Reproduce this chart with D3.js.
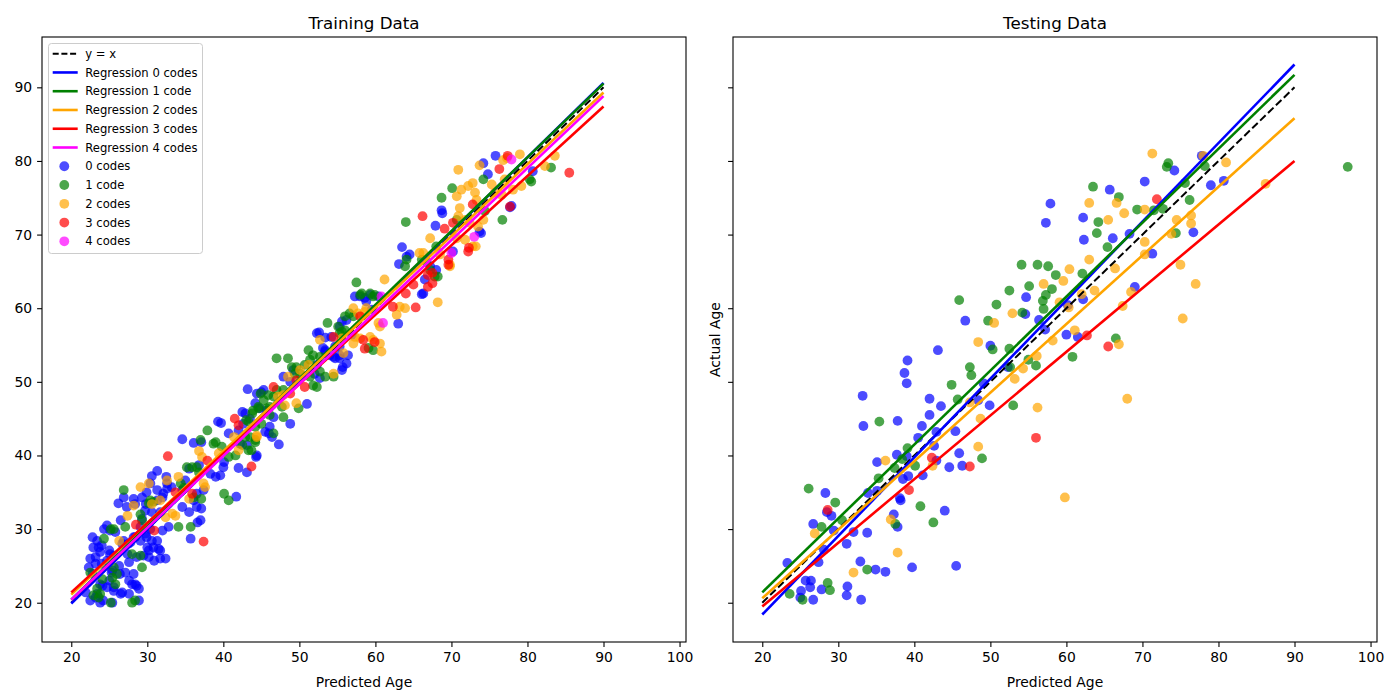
<!DOCTYPE html>
<html>
<head>
<meta charset="utf-8">
<script src="https://cdn.jsdelivr.net/npm/d3@7"></script>
<style>
body { margin: 0; background: #fff; }
text { font-family: "DejaVu Sans", sans-serif; fill: #000; }
</style>
</head>
<body>
<svg id="chart" width="1400" height="700"></svg>
<script>
var groups = ['0 codes', '1 code', '2 codes', '3 codes', '4 codes']
var colors = ['blue', 'green', 'orange', 'red', 'magenta']
var xTicks = [20, 30, 40, 50, 60, 70, 80, 90, 100]
var yTicks = [20, 30, 40, 50, 60, 70, 80, 90]

// regression lines: y at x = 20 and x = 90
var fitX = [20, 90]
var trainFits = [[19.9, 90.6], [20.4, 90.5], [21.1, 89.3], [21.4, 87.4], [20.4, 88.8]]
var testFits = [[18.4, 93.1], [21.4, 91.7], [20.6, 85.8], [19.5, 80.0]]

// training points [predicted, actual]
var train0 = [[43.2,49.0],[44.2,47.1],[39.3,44.6],[39.7,44.4],[34.6,42.2],[36.1,41.7],[37.1,41.8],[42.5,45.9],[40.7,43.0],[42.0,43.4],[44.4,40.0],[42.0,38.3],[43.1,37.7],[40.1,39.1],[39.0,37.1],[36.8,38.7],[35.5,38.2],[35.0,36.6],[31.3,37.9],[30.6,37.2],[32.5,37.1],[34.6,35.3],[32.6,35.5],[32.0,34.3],[31.3,33.9],[26.2,33.5],[26.9,34.3],[28.2,34.1],[29.3,34.3],[29.8,33.4],[30.6,32.3],[34.6,33.0],[35.5,32.3],[36.5,33.0],[37.1,32.8],[36.6,30.9],[35.7,28.7],[41.7,34.4],[32.0,29.8],[32.8,30.3],[30.4,30.0],[29.8,29.4],[31.3,28.4],[31.5,27.3],[32.4,26.0],[30.0,27.5],[30.2,26.2],[30.9,25.7],[28.4,28.9],[27.8,28.2],[26.7,28.0],[24.7,30.5],[24.3,30.0],[22.8,28.9],[23.6,27.5],[23.2,26.2],[22.5,26.0],[22.3,24.8],[22.8,23.9],[25.0,27.1],[25.6,26.4],[26.3,25.0],[25.4,24.4],[27.4,26.6],[27.6,25.5],[27.1,24.1],[28.2,23.9],[28.4,22.5],[28.9,21.9],[27.6,23.0],[25.0,23.0],[25.6,22.1],[24.1,22.3],[26.5,21.2],[27.6,21.2],[23.4,21.2],[22.5,20.3],[23.8,20.0],[21.9,21.4],[29.3,31.4],[29.1,30.3],[26.5,31.2],[28.9,20.3],
  [30.4,36.2],[29.9,35.0],[31.3,35.3],[32.6,36.2],[33.2,35.7],[32.1,34.8],[27.3,33.0],[28.4,33.4],[29.7,32.5],[31.7,32.3],[25.1,29.8],[25.8,29.6],[23.4,28.4],[24.0,27.8],[22.9,27.5],[23.8,26.9],[23.2,25.3],[24.0,25.3],[24.7,25.7],[25.1,26.6],[26.9,28.4],[27.5,28.0],[28.2,28.9],[29.1,28.4],[29.9,28.9],[30.6,28.4],[30.8,27.5],[31.7,27.1],[30.2,27.1],[29.5,26.4],[28.6,26.2],[31.7,26.0],[25.3,24.1],[26.4,23.9],[28.0,22.5],[28.6,22.3],[23.8,22.5],[24.7,22.1],[25.6,21.6],[26.7,21.4],[23.2,20.7],[24.2,20.3],[25.4,20.0],[37.0,31.2],[36.1,33.9],[36.5,34.8],[37.4,35.3],[38.3,37.5],[39.6,37.3],[40.0,38.4],
  [63.1,66.0],[64.1,67.0],[64.5,67.3],[66.1,61.9],[63.0,57.9],[58.0,61.6],[58.6,61.4],[56.2,58.4],[55.6,58.2],[52.6,56.7],[53.4,56.0],[56.9,56.4],[54.5,53.4],[55.3,53.2],[56.2,52.5],[55.7,52.0],[55.3,53.6],[53.4,54.1],[53.1,54.6],[52.3,52.3],[52.0,51.1],[52.7,50.5],[49.2,51.6],[47.9,50.7],[48.8,50.0],[45.3,48.9],[44.4,48.4],[44.8,46.4],[45.7,46.1],[46.6,45.2],[51.0,47.0],[48.8,44.3],[47.3,41.5],[44.3,39.8],[46.1,43.9],[45.5,43.2],[67.2,65.7],[68.0,65.2],[52.3,56.6],[54.7,54.8],[55.3,54.8],
  [45.0,48.6],[42.9,45.7],[43.5,45.0],[42.6,44.3],[46.0,43.0],[46.4,42.5],[42.2,41.6],[43.1,41.4],[53.4,54.3],[54.0,53.6],[54.7,53.2],[55.6,51.6],[56.4,53.6],[57.3,61.6],[58.8,60.9],[59.3,61.8],[60.4,61.6],[55.3,57.5],[59.5,59.8],[54.2,56.1],
  [75.8,80.7],[74.2,79.7],[80.7,78.6],[77.9,73.9],[77.7,73.7],[74.8,78.2],[68.7,73.3],[68.8,72.9],[67.9,71.2],[73.7,70.4],[73.9,70.2],[66.3,62.0],[66.5,63.9],[70.2,67.7],[63.5,68.3]]
var train1 = [[37.9,43.4],[37.0,42.1],[39.0,41.8],[39.8,41.2],[40.7,39.8],[42.5,41.4],[43.3,40.7],[44.2,42.1],[41.6,40.0],[44.9,48.4],[44.6,46.4],[43.8,45.7],[43.0,44.8],[40.1,34.8],[40.7,33.9],[34.4,36.2],[34.8,35.6],[35.9,38.4],[36.8,37.7],[36.1,34.3],[37.1,34.1],[34.1,30.3],[35.7,30.3],[26.9,35.3],[27.1,30.3],[25.2,30.0],[24.3,28.7],[29.1,32.0],[30.2,33.5],[28.0,26.6],[29.3,24.8],[26.0,23.9],[25.4,23.4],[24.1,23.2],[23.4,21.9],[23.8,21.2],[25.2,20.0],[28.4,20.3],[28.0,20.0],[22.5,24.1],
  [25.6,30.0],[29.1,26.4],[25.6,24.8],[25.8,22.5],[22.9,21.0],[23.6,20.7],[30.4,33.9],[30.8,33.7],[35.2,38.4],[36.5,38.4],[38.7,41.6],[29.3,31.2],
  [57.5,63.5],[53.7,58.0],[51.2,54.3],[51.8,53.6],[51.4,53.0],[47.0,53.2],[48.5,53.2],[49.6,52.0],[50.1,51.1],[50.7,52.3],[51.4,50.7],[51.8,49.5],[52.7,51.4],[53.4,50.7],[54.5,50.7],[52.7,53.4],[58.2,62.0],[59.3,62.0],[59.7,61.6],[56.6,59.3],[57.1,58.9],[56.0,57.0],[55.3,56.6],[59.7,54.3],[59.1,54.6],[64.1,66.6],[63.9,65.7],[67.2,65.2],[68.2,64.3],[47.0,48.9],[45.9,48.2],[45.3,47.5],[46.1,46.6],[47.7,46.6],[44.6,46.6],[43.9,46.1],[47.9,45.2],[45.0,44.3],[44.2,43.9],[43.5,42.5],[44.2,41.8],[43.7,40.7],[49.9,46.4],
  [47.9,48.9],[46.6,48.0],[45.7,46.4],[46.1,45.5],[43.3,44.6],[42.9,42.5],[46.6,43.0],[52.3,49.3],[56.0,58.9],[58.0,61.8],[59.9,61.8],[55.1,57.5],[55.6,56.8],[49.0,52.0],[49.4,51.1],
  [83.1,79.1],[80.3,77.5],[80.5,77.2],[76.7,72.0],[68.7,75.0],[70.1,76.3],[74.2,77.5],[67.8,64.3],[66.7,66.3],[66.1,66.6],[73.7,73.6],[74.4,73.2],[70.7,72.0],[68.0,68.4],[64.0,71.7]]
var train2 = [[36.8,40.6],[37.2,39.8],[39.4,40.3],[41.4,42.5],[42.0,40.7],[44.4,42.5],[34.1,37.1],[32.6,36.6],[29.1,35.7],[30.2,36.2],[30.6,33.4],[31.7,33.9],[28.2,33.2],[35.5,34.1],[37.4,36.2],[37.6,35.7],[33.7,31.8],[33.3,32.1],[27.4,31.8],[32.4,31.6],[26.3,28.4],
  [61.2,63.9],[68.2,60.8],[62.8,59.1],[63.9,60.0],[60.8,54.1],[60.4,58.0],[60.6,57.5],[57.1,60.0],[57.7,59.3],[58.6,59.5],[58.8,60.0],[57.3,56.1],[58.0,55.9],[55.8,53.9],[52.7,55.7],[54.5,51.1],[50.1,51.6],[48.5,50.7],[51.2,52.3],[47.9,48.2],[47.2,48.0],[49.6,47.1],[48.1,46.8],[44.4,42.7],[69.8,65.9],[65.8,67.5],
  [57.1,55.2],[59.3,56.1],[59.7,55.7],[60.6,55.2],[63.2,60.2],[55.6,55.9],
  [70.9,78.8],[73.7,79.4],[79.0,80.9],[83.6,80.7],[82.3,79.3],[76.8,80.1],[77.3,80.4],[72.2,76.6],[72.8,77.0],[71.3,76.1],[70.7,75.2],[75.3,76.8],[75.7,75.7],[76.6,75.4],[79.2,76.6],[73.1,75.7],[73.3,74.7],[71.1,73.6],[70.9,72.5],[71.8,72.0],[72.4,71.6],[73.5,71.1],[74.2,72.0],[67.2,69.5],[66.3,67.5],[70.7,69.5],[71.8,69.3],[72.8,68.4],[73.2,68.4],[68.5,67.3],[69.8,65.7],[78.1,76.1],[77.0,77.5]]
var train3 = [[32.7,39.9],[41.5,45.0],[42.0,44.1],[37.9,39.3],[43.7,38.5],[35.9,34.8],[33.7,35.0],[28.5,30.6],[30.9,29.8],[37.4,28.3],
  [62.3,60.2],[65.3,60.1],[58.0,58.9],[54.5,56.1],[58.4,55.7],[59.9,55.4],[58.6,54.5],[64.0,62.0],[65.0,63.2],[66.9,64.5],[67.5,63.4],[69.6,66.6],[69.6,65.9],[46.6,49.3],[50.7,49.3],[48.8,48.4],[49.6,50.2],
  [77.4,80.7],[76.3,78.9],[85.5,78.4],[77.7,73.8],[72.8,74.1],[66.2,72.5],[69.1,70.8],[70.2,71.6],[72.2,67.7],[72.3,68.2],[67.5,64.8],[66.9,62.9]]
var train4 = [[61.0,58.0],[60.8,61.6],[70.0,67.5],[77.9,80.2],[73.0,69.7]]

// testing points [predicted, actual]
var test0 = [[39.1,52.9],[38.7,51.2],[39.0,49.8],[33.2,48.1],[42.0,47.7],[43.5,46.7],[33.3,44.0],[37.8,44.7],[42.0,45.5],[41.0,44.0],[42.9,43.2],[45.4,43.3],[40.5,42.4],[42.6,41.3],[37.7,40.1],[39.0,39.9],[45.9,40.3],[35.1,39.1],[42.9,39.3],[44.6,38.4],[46.3,38.6],[39.2,37.2],[38.5,36.8],[41.1,37.3],[33.9,34.9],[35.1,35.2],[28.3,34.9],[38.1,34.2],[38.2,33.9],[28.5,32.3],[29.1,31.8],[37.3,32.0],[37.8,30.3],[26.7,30.7],[29.4,29.8],[32.0,29.6],[31.1,28.0],[33.8,29.5],[44.0,32.5],[28.1,27.2],[27.4,25.5],[23.3,25.4],[32.9,25.6],[34.9,24.5],[36.2,24.2],[39.7,24.8],[45.5,25.0],[25.7,23.0],[26.4,23.0],[26.3,22.1],[25.1,21.6],[25.0,20.7],[27.8,21.8],[31.2,22.2],[31.1,21.0],[26.7,20.4],[33.0,20.4],
  [54.7,61.5],[54.6,59.2],[46.7,58.3],[50.0,54.9],[43.1,54.3],[52.3,52.0],
  [56.4,58.4],[57.2,57.1],[62.2,61.2],[60.0,56.4],[61.5,56.1],[69.0,62.9],[62.3,69.3],[49.1,49.8],[48.4,47.5],[49.9,46.8],
  [77.8,80.7],[74.2,78.7],[70.3,77.2],[65.7,76.1],[57.9,74.2],[57.3,71.6],[62.2,72.3],[66.1,69.5],[68.3,70.1],[79.0,76.7],[80.7,77.3],[76.7,70.3],[71.3,67.4],[60.2,60.4]]
var test1 = [[47.3,52.0],[47.5,50.9],[44.9,49.6],[45.7,47.6],[35.4,44.6],[39.1,41.0],[38.4,39.5],[40.1,38.6],[37.4,38.3],[35.3,36.9],[26.1,35.5],[29.6,33.6],[40.8,33.1],[42.5,30.9],[27.8,30.3],[30.5,31.2],[37.5,30.7],[33.8,24.5],[28.6,22.7],[28.9,21.7],[23.6,21.2],[25.3,20.4],
  [54.1,65.9],[56.2,65.9],[55.1,63.0],[52.5,62.4],[50.8,60.5],[45.9,61.1],[49.7,58.3],[54.2,59.4],[50.3,54.4],[52.5,54.5],[56.0,52.2],[52.6,52.0],
  [65.4,68.3],[57.6,65.7],[58.6,64.5],[62.1,64.7],[58.1,62.6],[57.3,61.8],[56.9,61.0],[57.0,59.9],[55.0,53.0],[60.8,53.4],[66.5,55.9],[53.0,46.8],[48.9,39.6],
  [63.5,76.5],[66.9,75.1],[73.4,79.7],[73.2,79.2],[75.6,77.0],[76.2,74.7],[78.2,79.3],[69.3,73.4],[71.5,73.3],[72.7,73.5],[64.2,71.7],[64.0,70.2],[74.4,70.2],[97.0,79.2]]
var test2 = [[36.2,39.3],[42.4,38.6],[36.9,31.3],[26.9,29.4],[37.8,26.8],[32.0,24.1],
  [52.9,59.3],[50.5,58.0],[48.4,55.4],[54.3,51.8],[56.1,53.5],[53.2,50.4],
  [63.0,66.6],[60.4,65.3],[66.4,65.4],[57.0,63.3],[59.6,63.7],[62.0,61.9],[63.7,62.4],[68.5,62.2],[60.3,60.1],[59.1,60.8],[61.1,57.0],[58.2,55.6],[67.4,60.3],[66.9,55.1],[48.7,45.0],[56.2,46.5],[68.0,47.7],[47.3,47.2],[48.4,41.2],[59.8,34.3],
  [71.3,81.0],[78.0,80.7],[81.0,79.8],[63.0,74.3],[66.6,74.3],[67.6,72.9],[65.5,72.0],[70.3,73.4],[74.5,72.0],[76.4,72.6],[76.4,71.5],[73.8,70.1],[70.3,69.0],[70.3,67.3],[75.0,65.9],[77.0,63.3],[75.3,58.6],[86.2,76.9]]
var test3 = [[28.6,32.6],[39.3,35.3],[42.3,39.7],[47.3,38.5],[62.7,56.3],[65.5,54.8],[56.0,42.4],[71.9,74.8]]

var trainSets = [train0, train1, train2, train3, train4]
var testSets = [test0, test1, test2, test3]

var svg = d3.select('#chart')
var W = 644, H = 605

// shared axes, matplotlib style 5% margins around everything plotted
var allX = fitX.concat(...trainSets.flat().map(d => d[0]), ...testSets.flat().map(d => d[0]))
var allY = trainFits.flat().concat(testFits.flat(), trainSets.flat().map(d => d[1]), testSets.flat().map(d => d[1]))
function padded(ext){ var r = ext[1] - ext[0]; return [ext[0] - r*.05, ext[1] + r*.05] }
var x = d3.scaleLinear().domain(padded(d3.extent(allX))).range([0, W])
var y = d3.scaleLinear().domain(padded(d3.extent(allY))).range([H, 0])

var line = d3.line().x(d => x(d[0])).y(d => y(d[1]))

function drawPanel(left, title, sets, fits, showYLabels, showLegend, idx){
  var g = svg.append('g').attr('transform', `translate(${left},37)`)

  g.append('clipPath').attr('id', 'clip' + idx)
    .append('rect').attr('width', W).attr('height', H)

  var plot = g.append('g').attr('clip-path', `url(#clip${idx})`)

  sets.forEach((pts, i) => {
    plot.selectAll(null).data(pts).enter().append('circle')
      .attr('cx', d => x(d[0])).attr('cy', d => y(d[1])).attr('r', 4.9)
      .attr('fill', colors[i]).attr('fill-opacity', .7)
  })

  plot.append('path')
    .attr('d', line(fitX.map(v => [v, v])))
    .attr('stroke', '#000').attr('stroke-width', 2).attr('stroke-dasharray', '7.7,3.3').attr('fill', 'none')

  fits.forEach((f, i) => {
    plot.append('path')
      .attr('d', line(fitX.map((v, j) => [v, f[j]])))
      .attr('stroke', colors[i]).attr('stroke-width', 2.6).attr('fill', 'none')
  })

  var xAxis = d3.axisBottom(x).tickValues(xTicks).tickSize(4.9).tickPadding(4.9).tickSizeOuter(0)
  var yAxis = d3.axisLeft(y).tickValues(yTicks).tickSize(4.9).tickPadding(4.9).tickSizeOuter(0)
  if (!showYLabels) yAxis.tickFormat('')

  var ax = g.append('g').attr('transform', `translate(0,${H})`).call(xAxis)
  var ay = g.append('g').call(yAxis)
  ;[ax, ay].forEach(a => {
    a.select('.domain').remove()
    a.selectAll('line').attr('stroke', '#000').attr('stroke-width', 1.1)
    a.selectAll('text').attr('font-size', 13.9).attr('font-family', 'DejaVu Sans')
  })

  g.append('rect').attr('width', W).attr('height', H)
    .attr('fill', 'none').attr('stroke', '#000').attr('stroke-width', 1.1)

  g.append('text').attr('x', W/2).attr('y', -8.3).attr('text-anchor', 'middle')
    .attr('font-size', 16.7).text(title)

  g.append('text').attr('x', W/2).attr('y', H + 44.5).attr('text-anchor', 'middle')
    .attr('font-size', 13.9).text('Predicted Age')

  if (!showYLabels){
    g.append('text').attr('transform', `translate(-13,${H/2}) rotate(-90)`)
      .attr('text-anchor', 'middle').attr('font-size', 13.9).text('Actual Age')
  }

  if (showLegend){
    var rows = [{label: 'y = x', kind: 'dash', color: '#000'}]
      .concat(groups.map((k, i) => ({label: 'Regression ' + k, kind: 'line', color: colors[i]})))
      .concat(groups.map((k, i) => ({label: k, kind: 'dot', color: colors[i]})))

    var lg = g.append('g').attr('transform', 'translate(6.5,6.5)')
    lg.append('rect').attr('width', 154).attr('height', 210).attr('rx', 3)
      .attr('fill', '#fff').attr('fill-opacity', .8).attr('stroke', '#ccc').attr('stroke-width', 1)

    var row = lg.selectAll('g.row').data(rows).enter().append('g')
      .attr('transform', (d, i) => `translate(0,${10.2 + i*18.76})`)

    row.filter(d => d.kind != 'dot').append('line')
      .attr('x1', 4.2).attr('x2', 29.2)
      .attr('stroke', d => d.color).attr('stroke-width', d => d.kind == 'dash' ? 2 : 2.6)
      .attr('stroke-dasharray', d => d.kind == 'dash' ? '6,2.7' : null)

    row.filter(d => d.kind == 'dot').append('circle')
      .attr('cx', 15.8).attr('r', 4.9).attr('fill', d => d.color).attr('fill-opacity', .7)

    row.append('text').attr('x', 36.8).attr('dy', '0.35em')
      .attr('font-size', 11.6).text(d => d.label)
  }
}

drawPanel(42, 'Training Data', trainSets, trainFits, true, true, 0)
drawPanel(733, 'Testing Data', testSets, testFits, false, false, 1)
</script>
</body>
</html>
